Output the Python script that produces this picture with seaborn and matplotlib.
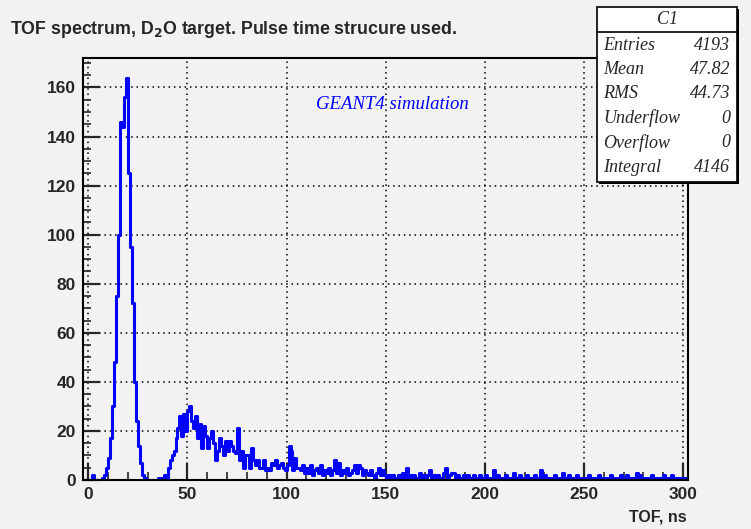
import numpy as np
import pandas as pd
import matplotlib
matplotlib.use('Agg')
import matplotlib.pyplot as plt
from matplotlib.patches import Rectangle
from matplotlib.ticker import MultipleLocator
import seaborn as sns

# TOF histogram, 1 ns bins starting at -2 ns
bin_start = -2
counts = [0, 0,
          0, 0, 2, 0, 0, 0, 0, 1, 2, 5,
          9, 17, 30, 48, 75, 100, 146, 144, 156, 164,
          125, 95, 72, 40, 24, 14, 7, 2, 1, 0,
          0, 0, 0, 0, 0, 1, 0, 1, 2, 1,
          5, 8, 10, 12, 17, 21, 26, 18, 27, 20,
          28, 30, 24, 21, 26, 17, 23, 13, 22, 18,
          13, 17, 20, 15, 8, 12, 17, 14, 10, 16,
          12, 16, 14, 12, 11, 21, 8, 12, 5, 10,
          10, 5, 13, 8, 6, 8, 5, 5, 8, 4,
          5, 4, 7, 6, 8, 5, 6, 7, 5, 4,
          6, 14, 12, 4, 9, 5, 5, 4, 6, 3,
          5, 3, 6, 2, 4, 5, 3, 6, 2, 4,
          3, 5, 2, 4, 8, 3, 7, 2, 4, 3,
          5, 2, 3, 4, 6, 3, 6, 5, 2, 4,
          3, 2, 4, 2, 1, 3, 5, 2, 4, 2,
          1, 2, 1, 2, 1, 0, 2, 1, 3, 1,
          5, 1, 2, 1, 2, 1, 0, 3, 1, 2,
          1, 2, 4, 1, 2, 1, 2, 0, 1, 3,
          5, 1, 2, 3, 3, 1, 2, 1, 0, 2,
          1, 2, 1, 0, 2, 1, 1, 2, 1, 0,
          2, 1, 1, 1, 4, 1, 2, 1, 0, 1,
          2, 1, 1, 0, 3, 1, 1, 2, 1, 0,
          1, 2, 1, 1, 0, 2, 1, 1, 4, 1,
          2, 1, 0, 1, 1, 2, 1, 0, 1, 3,
          1, 1, 2, 0, 1, 1, 2, 1, 1, 0,
          1, 0, 2, 1, 1, 0, 1, 2, 1, 1,
          0, 1, 1, 2, 1, 0, 1, 1, 2, 1,
          1, 2, 1, 0, 1, 1, 3, 1, 2, 1,
          1, 0, 1, 1, 2, 1, 1, 0, 1, 1,
          2, 1, 0, 1, 2, 1, 1, 1, 0, 1,
          1, 1]

stat_names = ['Entries', 'Mean', 'RMS', 'Underflow', 'Overflow', 'Integral']
stat_values = ['4193', '47.82', '44.73', '0', '0', '4146']

bg = '#f2f2f2'
sns.set_style('ticks')
plt.rcParams['font.family'] = ['Liberation Sans', 'DejaVu Sans']

df = pd.DataFrame({'tof': np.arange(len(counts)) + bin_start + 0.5, 'n': counts})

W, H = 751, 529
fig = plt.figure(figsize=(W / 100, H / 100), dpi=100, facecolor=bg)
ax = fig.add_axes([82.7 / W, 1 - 480 / H, (687.7 - 82.7) / W, (480 - 58) / H])
ax.set_facecolor(bg)

sns.histplot(data=df, x='tof', weights='n', binwidth=1,
             binrange=(bin_start, bin_start + len(counts)), element='step', fill=False,
             color='#0000ff', linewidth=2.2, ax=ax)

ax.set_xlim(-2.8, 302.3)
ax.set_ylim(0, 172)
ax.xaxis.set_major_locator(MultipleLocator(50))
ax.xaxis.set_minor_locator(MultipleLocator(10))
ax.yaxis.set_major_locator(MultipleLocator(20))
ax.yaxis.set_minor_locator(MultipleLocator(5))
ax.grid(True, which='major', color='black', linestyle=(0, (1, 2.5)), linewidth=1.1)
ax.set_axisbelow(True)
ax.tick_params(axis='both', which='major', direction='in', length=12, width=1.6,
               labelsize=12.5, top=False, right=False)
ax.tick_params(axis='both', which='minor', direction='in', length=6, width=1.2,
               top=False, right=False)
ax.tick_params(axis='x', pad=5)
ax.tick_params(axis='y', pad=5)
for lab in ax.get_xticklabels() + ax.get_yticklabels():
    lab.set_fontweight('bold')
for s in ax.spines.values():
    s.set_linewidth(1.5)
    s.set_color('black')
ax.set_xlabel('')
ax.set_ylabel('')

fig.text(10 / W, 1 - 34 / H, 'TOF spectrum, D$_{\\mathbf{2}}$O target. Pulse time strucure used.',
         fontsize=12.8, fontweight='bold', ha='left', va='baseline')
fig.text(687 / W, 1 - 522 / H, 'TOF, ns', fontsize=11.5, fontweight='bold',
         ha='right', va='baseline')
ax.text(0.386, 0.89, 'GEANT4 simulation', transform=ax.transAxes, color='#0000ff',
        fontsize=13.5, fontstyle='italic', family='Liberation Serif', ha='left', va='center')

# stats box
bx0, by0, bx1, by1 = 597, 7, 737, 182
fig.add_artist(Rectangle(((bx0 + 2) / W, 1 - (by1 + 2) / H), (bx1 - bx0) / W, (by1 - by0) / H,
                         transform=fig.transFigure, facecolor='black', edgecolor='none',
                         zorder=4))
fig.add_artist(Rectangle((bx0 / W, 1 - by1 / H), (bx1 - bx0) / W, (by1 - by0) / H,
                         transform=fig.transFigure, facecolor='white', edgecolor='black',
                         linewidth=1.2, zorder=5))
fig.add_artist(plt.Line2D([bx0 / W, bx1 / W], [1 - 31.5 / H, 1 - 31.5 / H],
                          transform=fig.transFigure, color='black', linewidth=1.2, zorder=6))
fig.text((bx0 + bx1) / 2 / W, 1 - 19 / H, 'C1', fontsize=13, fontstyle='italic',
         family='Liberation Serif', ha='center', va='center', zorder=7)
for i, (nm, val) in enumerate(zip(stat_names, stat_values)):
    yy = 1 - (45 + i * 24.4) / H
    fig.text(603 / W, yy, nm, fontsize=13, fontstyle='italic', family='Liberation Serif',
             ha='left', va='center', zorder=7)
    fig.text(730 / W, yy, val, fontsize=13, fontstyle='italic', family='Liberation Serif',
             ha='right', va='center', zorder=7)

fig.savefig('out.png', dpi=100, facecolor=bg)
